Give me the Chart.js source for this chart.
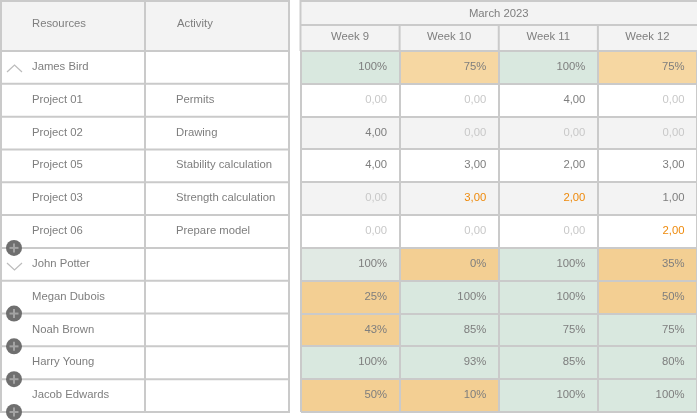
<!DOCTYPE html>
<html>
<head>
<meta charset="utf-8">
<title>Resource planning March 2023</title>
<script src="https://cdn.jsdelivr.net/npm/chart.js@4/dist/chart.umd.min.js"></script>
<style>
  html, body { margin: 0; padding: 0; background: #fff; overflow: hidden; }
  canvas { display: block; }
</style>
</head>
<body>
<canvas id="plan" width="697" height="420"></canvas>
<script>
/* ─── DATA ─────────────────────────────────────────────── */

const MONTH = 'March 2023';
const WEEKS = ['Week 9', 'Week 10', 'Week 11', 'Week 12'];
const RESOURCES = ['James Bird', 'Project 01', 'Project 02', 'Project 05', 'Project 03', 'Project 06',
  'John Potter', 'Megan Dubois', 'Noah Brown', 'Harry Young', 'Jacob Edwards'];
const ACTIVITIES = ['', 'Permits', 'Drawing', 'Stability calculation', 'Strength calculation', 'Prepare model',
  '', '', '', '', ''];

const WEEK_9  = ['100%', '0,00', '4,00', '4,00', '0,00', '0,00', '100%', '25%', '43%', '100%', '50%'];
const WEEK_10 = ['75%', '0,00', '0,00', '3,00', '3,00', '0,00', '0%', '100%', '85%', '93%', '10%'];
const WEEK_11 = ['100%', '4,00', '0,00', '2,00', '2,00', '0,00', '100%', '100%', '75%', '85%', '100%'];
const WEEK_12 = ['75%', '0,00', '0,00', '3,00', '1,00', '2,00', '35%', '50%', '75%', '80%', '100%'];
const WEEK_CELLS = [WEEK_9, WEEK_10, WEEK_11, WEEK_12];

/* every cell is one week long */
const CELL_SPAN = [1, 1, 1, 1, 1, 1, 1, 1, 1, 1, 1];

/* cell state per week: ok / low = load, soft = lighter variant, none / off = project rows */
const STATE_9  = ['ok', 'none', 'off', 'none', 'off', 'none', 'okSoft', 'low', 'low', 'ok', 'low'];
const STATE_10 = ['lowSoft', 'none', 'off', 'none', 'off', 'none', 'low', 'ok', 'ok', 'ok', 'low'];
const STATE_11 = ['ok', 'none', 'off', 'none', 'off', 'none', 'ok', 'ok', 'ok', 'ok', 'ok'];
const STATE_12 = ['lowSoft', 'none', 'off', 'none', 'off', 'none', 'low', 'low', 'ok', 'ok', 'ok'];
const WEEK_STATES = [STATE_9, STATE_10, STATE_11, STATE_12];

/* project hours flagged as overdue */
const LATE_CELLS = ['3,00@1@4', '2,00@2@4', '2,00@3@5'];

/* ─── STYLE ────────────────────────────────────────────── */

const FONT = { family: '"Liberation Sans", Arial, sans-serif', size: 11.3 };
const LINE = '#cacaca';
const HEAD_BG = '#f3f3f3';
const TEXT = '#7e7e7e';
const TEXT_ZERO = '#c8c8c8';
const TEXT_LATE = '#ee8a0c';
const STATE_FILL = {
  ok: '#d9e8df', okSoft: '#e1eae4',
  low: '#f3cf93', lowSoft: '#f6d7a2',
  none: '#ffffff', off: '#f3f3f3',
};

function hLine(c, x0, x1, y) {
  c.beginPath(); c.moveTo(x0, y); c.lineTo(x1, y); c.stroke();
}
function vLine(c, x, y0, y1) {
  c.beginPath(); c.moveTo(x, y0); c.lineTo(x, y1); c.stroke();
}

/* ─── TABLE FRAME ──────────────────────────────────────────
   Everything around the bars: header fills, left table rules,
   column text, expand icons and the value in each cell.
──────────────────────────────────────────────────────────── */

const tableFrame = {
  id: 'tableFrame',

  beforeDraw(chart) {
    const { ctx: c, chartArea: a } = chart;
    c.save();
    c.fillStyle = HEAD_BG;
    c.fillRect(0, 0, 289, a.top);
    c.fillRect(a.left, 0, a.right - a.left, a.top);
    c.restore();
  },

  afterDraw(chart) {
    const { ctx: c, chartArea: a, scales } = chart;
    const { y, x2 } = scales;
    const rowH = y.getPixelForValue(1) - y.getPixelForValue(0);
    const colW = x2.getPixelForValue(1) - x2.getPixelForValue(0);

    c.save();
    c.strokeStyle = LINE;
    c.lineWidth = 2;

    /* left table rules */
    hLine(c, 0, 290, 1);
    RESOURCES.forEach((_, i) => hLine(c, 0, 290, y.getPixelForValue(i) - rowH / 2));
    hLine(c, 0, 290, a.bottom);
    vLine(c, 1, 0, a.bottom);
    vLine(c, 145, 0, a.bottom);
    vLine(c, 289, 0, a.bottom);

    /* week header rules */
    hLine(c, a.left, a.right, 1);
    hLine(c, a.left, a.right, 25);
    vLine(c, a.left, 0, a.top);
    WEEKS.slice(1).forEach((_, i) => {
      vLine(c, x2.getPixelForValue(i + 1) - colW / 2, 25, a.top);
    });

    /* header and activity text */
    c.font = `${FONT.size}px ${FONT.family}`;
    c.fillStyle = TEXT;
    c.textBaseline = 'middle';
    c.textAlign = 'left';
    c.fillText('Resources', 32, 24);
    c.fillText('Activity', 177, 24);
    ACTIVITIES.forEach((name, i) => {
      if (name) c.fillText(name, 176, y.getPixelForValue(i) - 0.5);
    });
    c.textAlign = 'center';
    c.fillText(MONTH, (a.left + a.right) / 2, 14);

    /* cell values, placed on the bars themselves */
    c.textAlign = 'right';
    chart.data.datasets.forEach((ds, w) => {
      chart.getDatasetMeta(w).data.forEach((bar, r) => {
        const label = WEEK_CELLS[w][r];
        const late = LATE_CELLS.includes(`${label}@${w}@${r}`);
        c.fillStyle = late ? TEXT_LATE : label === '0,00' ? TEXT_ZERO : TEXT;
        c.fillText(label, bar.x - 12.5, bar.y - 0.5);
      });
    });

    /* collapse chevrons */
    c.strokeStyle = '#bcbcbc';
    c.lineWidth = 1.2;
    c.beginPath(); c.moveTo(7, 72); c.lineTo(14.5, 65); c.lineTo(22, 72); c.stroke();
    c.beginPath(); c.moveTo(7, 263); c.lineTo(14.5, 270); c.lineTo(22, 263); c.stroke();

    /* add-row badges on the row rules */
    [5, 7, 8, 9, 10].forEach((r) => {
      const by = y.getPixelForValue(r) + rowH / 2;
      c.fillStyle = '#6f6f6f';
      c.beginPath(); c.arc(14, by, 8, 0, Math.PI * 2); c.fill();
      c.strokeStyle = '#a3a3a3';
      c.lineWidth = 2;
      hLine(c, 9.5, 18.5, by);
      vLine(c, 14, by - 4.5, by + 4.5);
    });
    c.restore();
  },
};

/* ─── CHART ────────────────────────────────────────────── */

new Chart(document.getElementById('plan'), {
  type: 'bar',
  plugins: [tableFrame],
  data: {
    labels: RESOURCES,
    datasets: WEEKS.map((week, w) => ({
      label: week,
      data: CELL_SPAN,
      backgroundColor: WEEK_STATES[w].map((s) => STATE_FILL[s]),
      borderWidth: 0,
      barPercentage: 1,
      categoryPercentage: 1,
    })),
  },
  options: {
    indexAxis: 'y',
    responsive: false,
    animation: false,
    layout: { padding: { left: 32, top: 25, right: 0, bottom: 8 } },
    plugins: { legend: { display: false }, tooltip: { enabled: false } },
    scales: {
      x: { display: false, stacked: true, min: 0, max: WEEKS.length },
      x2: {
        type: 'category',
        labels: WEEKS,
        position: 'top',
        offset: true,
        afterFit: (scale) => { scale.height = 26; },
        border: { display: false },
        grid: {
          z: 1, offset: true, drawTicks: false, lineWidth: 2,
          color: (ctx) => (ctx.index === WEEKS.length ? 'rgba(0,0,0,0)' : LINE),
        },
        ticks: { color: TEXT, font: FONT, padding: 7, maxRotation: 0, autoSkip: false },
      },
      y: {
        stacked: true,
        offset: true,
        afterFit: (scale) => { scale.width = 268.5; },
        border: { display: false },
        grid: { z: 1, offset: true, drawTicks: false, lineWidth: 2, color: LINE },
        ticks: { color: TEXT, font: FONT, crossAlign: 'far', padding: 0, labelOffset: -0.5, autoSkip: false },
      },
    },
  },
});
</script>
</body>
</html>
